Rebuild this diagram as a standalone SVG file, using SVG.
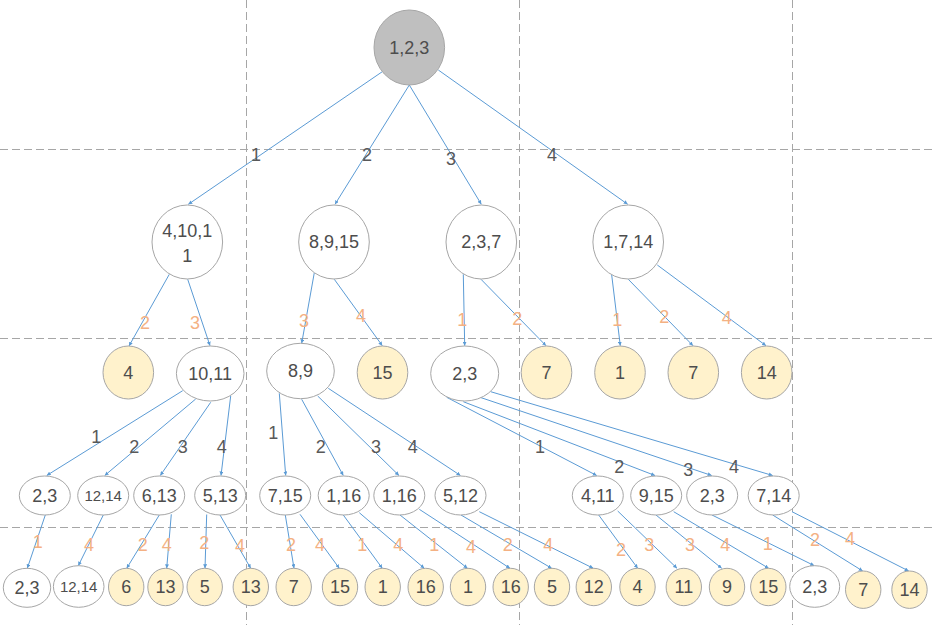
<svg xmlns="http://www.w3.org/2000/svg" width="932" height="625" viewBox="0 0 932 625">
<style>
.grid{stroke:#a6a6a6;stroke-width:1;stroke-dasharray:8 4;fill:none}
.e{stroke:#5b9bd5;stroke-width:1;fill:none;marker-end:url(#arr)}
.w{fill:#ffffff;stroke:#a6a6a6;stroke-width:1}
.y{fill:#fff2cc;stroke:#a6a6a6;stroke-width:1}
.r{fill:#bfbfbf;stroke:#a6a6a6;stroke-width:1}
text{font-family:"Liberation Sans",Arial,sans-serif;font-size:18px;fill:#4d4d4d;text-anchor:middle}
.lb{fill:#595959}
.lo{fill:#f4b183}
.sm{font-size:15px}
</style>
<defs>
<marker id="arr" viewBox="0 0 6 6" refX="6" refY="3" markerWidth="4" markerHeight="4" markerUnits="userSpaceOnUse" orient="auto">
<path d="M0,0 L6,3 L0,6 z" fill="#5b9bd5"/>
</marker>
</defs>
<rect width="932" height="625" fill="#ffffff"/>
<g id="grid">
<line class="grid" x1="246.5" y1="0" x2="246.5" y2="625"/>
<line class="grid" x1="519.5" y1="0" x2="519.5" y2="625"/>
<line class="grid" x1="792.5" y1="0" x2="792.5" y2="625"/>
<line class="grid" x1="0" y1="149.5" x2="932" y2="149.5"/>
<line class="grid" x1="0" y1="338.5" x2="932" y2="338.5"/>
<line class="grid" x1="0" y1="527.5" x2="932" y2="527.5"/>
</g>
<g id="connectors">
<line class="e" x1="382.3" y1="71.7" x2="188.3" y2="204.3"/>
<line class="e" x1="409.3" y1="85" x2="335" y2="204.3"/>
<line class="e" x1="409.3" y1="85" x2="481.3" y2="204.3"/>
<line class="e" x1="438.3" y1="70" x2="627.7" y2="204.3"/>
<line class="e" x1="169.3" y1="274.3" x2="129" y2="346"/>
<line class="e" x1="187.7" y1="279.3" x2="210" y2="345.7"/>
<line class="e" x1="314.3" y1="272.7" x2="301.7" y2="343.3"/>
<line class="e" x1="334.3" y1="279.3" x2="382.3" y2="345.7"/>
<line class="e" x1="463.3" y1="274.3" x2="464.7" y2="345.7"/>
<line class="e" x1="481" y1="279.3" x2="546" y2="345.7"/>
<line class="e" x1="611.7" y1="275" x2="620.3" y2="345.7"/>
<line class="e" x1="628.3" y1="279.3" x2="693" y2="345.7"/>
<line class="e" x1="657.3" y1="265" x2="766" y2="345.7"/>
<line class="e" x1="182.7" y1="390.7" x2="46.7" y2="475.5"/>
<line class="e" x1="195.7" y1="399" x2="104.7" y2="475.5"/>
<line class="e" x1="210.7" y1="402.3" x2="160.3" y2="475.5"/>
<line class="e" x1="230.7" y1="396" x2="221" y2="475.5"/>
<line class="e" x1="279.3" y1="393.3" x2="285.7" y2="475.5"/>
<line class="e" x1="301.7" y1="399.3" x2="343.3" y2="475.5"/>
<line class="e" x1="317.7" y1="396" x2="399" y2="475.5"/>
<line class="e" x1="328.3" y1="388.3" x2="460.5" y2="475.5"/>
<line class="e" x1="446.7" y1="397.3" x2="596.7" y2="475.5"/>
<line class="e" x1="463.3" y1="401.7" x2="655" y2="475.5"/>
<line class="e" x1="480" y1="397.3" x2="711.7" y2="475.5"/>
<line class="e" x1="490.7" y1="391.7" x2="772.7" y2="475.5"/>
<line class="e" x1="45.3" y1="515" x2="27.3" y2="568.3"/>
<line class="e" x1="103.3" y1="515" x2="78.3" y2="565.7"/>
<line class="e" x1="159.3" y1="515" x2="126.7" y2="568.3"/>
<line class="e" x1="171.3" y1="514.3" x2="166.7" y2="568.3"/>
<line class="e" x1="206.7" y1="514.5" x2="205" y2="568.3"/>
<line class="e" x1="220" y1="515" x2="250.7" y2="568.3"/>
<line class="e" x1="285.3" y1="515" x2="294" y2="568.3"/>
<line class="e" x1="300" y1="514.3" x2="339.3" y2="568.3"/>
<line class="e" x1="343.3" y1="515" x2="382.3" y2="568.3"/>
<line class="e" x1="359.3" y1="512.7" x2="424.3" y2="568.3"/>
<line class="e" x1="400" y1="515" x2="467.5" y2="568.3"/>
<line class="e" x1="419.3" y1="509.3" x2="510" y2="568.3"/>
<line class="e" x1="461" y1="515" x2="551.7" y2="568.3"/>
<line class="e" x1="479.3" y1="511.7" x2="593.3" y2="568.3"/>
<line class="e" x1="598.7" y1="515" x2="637.7" y2="568.3"/>
<line class="e" x1="617.7" y1="511" x2="677" y2="568.3"/>
<line class="e" x1="656" y1="515" x2="721.7" y2="568.3"/>
<line class="e" x1="673.7" y1="511.7" x2="768.7" y2="568.3"/>
<line class="e" x1="712" y1="515" x2="814.3" y2="565.7"/>
<line class="e" x1="772.7" y1="515" x2="862.7" y2="571"/>
<line class="e" x1="792" y1="511.7" x2="908.7" y2="571"/>
</g>
<g id="edge-labels">
<text class="lb" x="256" y="161">1</text>
<text class="lb" x="367" y="161">2</text>
<text class="lb" x="451" y="165">3</text>
<text class="lb" x="552" y="161">4</text>
<text class="lo" x="145" y="328.5">2</text>
<text class="lo" x="195" y="329">3</text>
<text class="lo" x="304" y="327">3</text>
<text class="lo" x="361" y="322">4</text>
<text class="lo" x="462.3" y="325.5">1</text>
<text class="lo" x="517.3" y="324.5">2</text>
<text class="lo" x="617.3" y="325.5">1</text>
<text class="lo" x="664.3" y="323">2</text>
<text class="lo" x="726.7" y="323.5">4</text>
<text class="lb" x="96.3" y="443">1</text>
<text class="lb" x="134.3" y="453">2</text>
<text class="lb" x="182.7" y="453">3</text>
<text class="lb" x="221.7" y="453">4</text>
<text class="lb" x="273.3" y="439">1</text>
<text class="lb" x="320.7" y="453">2</text>
<text class="lb" x="376" y="453">3</text>
<text class="lb" x="412.7" y="453">4</text>
<text class="lb" x="540" y="453">1</text>
<text class="lb" x="619.3" y="473">2</text>
<text class="lb" x="688.3" y="476">3</text>
<text class="lb" x="734" y="473">4</text>
<text class="lo" x="37.7" y="548">1</text>
<text class="lo" x="89" y="551">4</text>
<text class="lo" x="142.7" y="551">2</text>
<text class="lo" x="166.7" y="551">4</text>
<text class="lo" x="204.3" y="549">2</text>
<text class="lo" x="240" y="552">4</text>
<text class="lo" x="291" y="551">2</text>
<text class="lo" x="320" y="551">4</text>
<text class="lo" x="362.3" y="551">1</text>
<text class="lo" x="398.3" y="551">4</text>
<text class="lo" x="434.3" y="551">1</text>
<text class="lo" x="471" y="553">4</text>
<text class="lo" x="507.7" y="551">2</text>
<text class="lo" x="548.3" y="551">4</text>
<text class="lo" x="621" y="556">2</text>
<text class="lo" x="649.3" y="551">3</text>
<text class="lo" x="690" y="551">3</text>
<text class="lo" x="725.3" y="551">4</text>
<text class="lo" x="767.7" y="549.5">1</text>
<text class="lo" x="815" y="546">2</text>
<text class="lo" x="850" y="544.5">4</text>
</g>
<g id="n-root"><ellipse class="r" cx="409.3" cy="47.5" rx="35.3" ry="37.5"/><text x="409.3" y="54">1,2,3</text></g>
<g id="n-4-10-11"><ellipse class="w" cx="187.3" cy="242" rx="35.3" ry="37"/><text x="187.3" y="236.5">4,10,1</text><text x="187.3" y="261.5">1</text></g>
<g id="n-8-9-15"><ellipse class="w" cx="334" cy="242" rx="35.3" ry="37"/><text x="334" y="248.3">8,9,15</text></g>
<g id="n-2-3-7"><ellipse class="w" cx="481.3" cy="242" rx="35.3" ry="37"/><text x="481.3" y="248.3">2,3,7</text></g>
<g id="n-1-7-14"><ellipse class="w" cx="628.2" cy="242" rx="35.3" ry="37"/><text x="628.2" y="248.3">1,7,14</text></g>
<g id="n-l2-4"><ellipse class="y" cx="128.3" cy="372.5" rx="25.3" ry="26.5"/><text x="128.3" y="378.8">4</text></g>
<g id="n-l2-10-11"><ellipse class="w" cx="210.2" cy="373.5" rx="33.8" ry="27.5"/><text x="210.2" y="379.8">10,11</text></g>
<g id="n-l2-8-9"><ellipse class="w" cx="300.5" cy="371" rx="33.8" ry="27.7"/><text x="300.5" y="377.3">8,9</text></g>
<g id="n-l2-15"><ellipse class="y" cx="382.5" cy="372.5" rx="25.3" ry="26.5"/><text x="382.5" y="378.8">15</text></g>
<g id="n-l2-2-3"><ellipse class="w" cx="464.7" cy="373.5" rx="34" ry="27.5"/><text x="464.7" y="379.8">2,3</text></g>
<g id="n-l2-7a"><ellipse class="y" cx="546.5" cy="372.5" rx="25.3" ry="26.5"/><text x="546.5" y="378.8">7</text></g>
<g id="n-l2-1"><ellipse class="y" cx="620" cy="372.5" rx="25.3" ry="26.5"/><text x="620" y="378.8">1</text></g>
<g id="n-l2-7b"><ellipse class="y" cx="693.3" cy="372.5" rx="25.3" ry="26.5"/><text x="693.3" y="378.8">7</text></g>
<g id="n-l2-14"><ellipse class="y" cx="766.7" cy="372.5" rx="25.3" ry="26.5"/><text x="766.7" y="378.8">14</text></g>
<g id="n-l3-2-3a"><ellipse class="w" cx="44.8" cy="495.5" rx="25.5" ry="19.5"/><text x="44.8" y="501.8">2,3</text></g>
<g id="n-l3-12-14"><ellipse class="w" cx="103.2" cy="495.5" rx="25.5" ry="19.5"/><text class="sm" x="103.2" y="500.8">12,14</text></g>
<g id="n-l3-6-13"><ellipse class="w" cx="159.2" cy="495.5" rx="25.5" ry="19.5"/><text x="159.2" y="501.8">6,13</text></g>
<g id="n-l3-5-13"><ellipse class="w" cx="220.2" cy="495.5" rx="25.5" ry="19.5"/><text x="220.2" y="501.8">5,13</text></g>
<g id="n-l3-7-15"><ellipse class="w" cx="285.2" cy="495.5" rx="25.5" ry="19.5"/><text x="285.2" y="501.8">7,15</text></g>
<g id="n-l3-1-16a"><ellipse class="w" cx="343.7" cy="495.5" rx="25.5" ry="19.5"/><text x="343.7" y="501.8">1,16</text></g>
<g id="n-l3-1-16b"><ellipse class="w" cx="399.3" cy="495.5" rx="25.5" ry="19.5"/><text x="399.3" y="501.8">1,16</text></g>
<g id="n-l3-5-12"><ellipse class="w" cx="460.5" cy="495.5" rx="25.5" ry="19.5"/><text x="460.5" y="501.8">5,12</text></g>
<g id="n-l3-4-11"><ellipse class="w" cx="597.8" cy="495.5" rx="25.5" ry="19.5"/><text x="597.8" y="501.8">4,11</text></g>
<g id="n-l3-9-15"><ellipse class="w" cx="656.2" cy="495.5" rx="25.5" ry="19.5"/><text x="656.2" y="501.8">9,15</text></g>
<g id="n-l3-2-3b"><ellipse class="w" cx="712.2" cy="495.5" rx="25.5" ry="19.5"/><text x="712.2" y="501.8">2,3</text></g>
<g id="n-l3-7-14"><ellipse class="w" cx="773.7" cy="495.5" rx="25.5" ry="19.5"/><text x="773.7" y="501.8">7,14</text></g>
<g id="n-l4-2-3a"><ellipse class="w" cx="27" cy="587.8" rx="23.7" ry="19.5"/><text x="27" y="594">2,3</text></g>
<g id="n-l4-12-14"><ellipse class="w" cx="78.7" cy="586.5" rx="25.3" ry="20.8"/><text class="sm" x="78.7" y="591.8">12,14</text></g>
<g id="n-l4-6"><ellipse class="y" cx="126.2" cy="587" rx="17.7" ry="18.7"/><text x="126.2" y="593.3">6</text></g>
<g id="n-l4-13a"><ellipse class="y" cx="165.5" cy="587" rx="17.7" ry="18.7"/><text x="165.5" y="593.3">13</text></g>
<g id="n-l4-5a"><ellipse class="y" cx="204.7" cy="587" rx="17.7" ry="18.7"/><text x="204.7" y="593.3">5</text></g>
<g id="n-l4-13b"><ellipse class="y" cx="250.8" cy="587" rx="17.7" ry="18.7"/><text x="250.8" y="593.3">13</text></g>
<g id="n-l4-7a"><ellipse class="y" cx="293.7" cy="587" rx="17.7" ry="18.7"/><text x="293.7" y="593.3">7</text></g>
<g id="n-l4-15a"><ellipse class="y" cx="340" cy="587" rx="17.7" ry="18.7"/><text x="340" y="593.3">15</text></g>
<g id="n-l4-1a"><ellipse class="y" cx="382.7" cy="587" rx="17.7" ry="18.7"/><text x="382.7" y="593.3">1</text></g>
<g id="n-l4-16a"><ellipse class="y" cx="425.7" cy="587" rx="17.7" ry="18.7"/><text x="425.7" y="593.3">16</text></g>
<g id="n-l4-1b"><ellipse class="y" cx="468" cy="587" rx="17.7" ry="18.7"/><text x="468" y="593.3">1</text></g>
<g id="n-l4-16b"><ellipse class="y" cx="510.7" cy="587" rx="17.7" ry="18.7"/><text x="510.7" y="593.3">16</text></g>
<g id="n-l4-5b"><ellipse class="y" cx="552" cy="587" rx="17.7" ry="18.7"/><text x="552" y="593.3">5</text></g>
<g id="n-l4-12"><ellipse class="y" cx="593.8" cy="587" rx="17.7" ry="18.7"/><text x="593.8" y="593.3">12</text></g>
<g id="n-l4-4"><ellipse class="y" cx="637.5" cy="587" rx="17.7" ry="18.7"/><text x="637.5" y="593.3">4</text></g>
<g id="n-l4-11"><ellipse class="y" cx="683.8" cy="587" rx="17.7" ry="18.7"/><text x="683.8" y="593.3">11</text></g>
<g id="n-l4-9"><ellipse class="y" cx="727" cy="587" rx="17.7" ry="18.7"/><text x="727" y="593.3">9</text></g>
<g id="n-l4-15b"><ellipse class="y" cx="768.3" cy="587" rx="17.7" ry="18.7"/><text x="768.3" y="593.3">15</text></g>
<g id="n-l4-2-3b"><ellipse class="w" cx="814.7" cy="586.5" rx="25" ry="20.8"/><text x="814.7" y="592.8">2,3</text></g>
<g id="n-l4-7b"><ellipse class="y" cx="863.2" cy="589.7" rx="17.7" ry="18.7"/><text x="863.2" y="596">7</text></g>
<g id="n-l4-14"><ellipse class="y" cx="909.5" cy="589.7" rx="17.7" ry="18.7"/><text x="909.5" y="596">14</text></g>
</svg>
